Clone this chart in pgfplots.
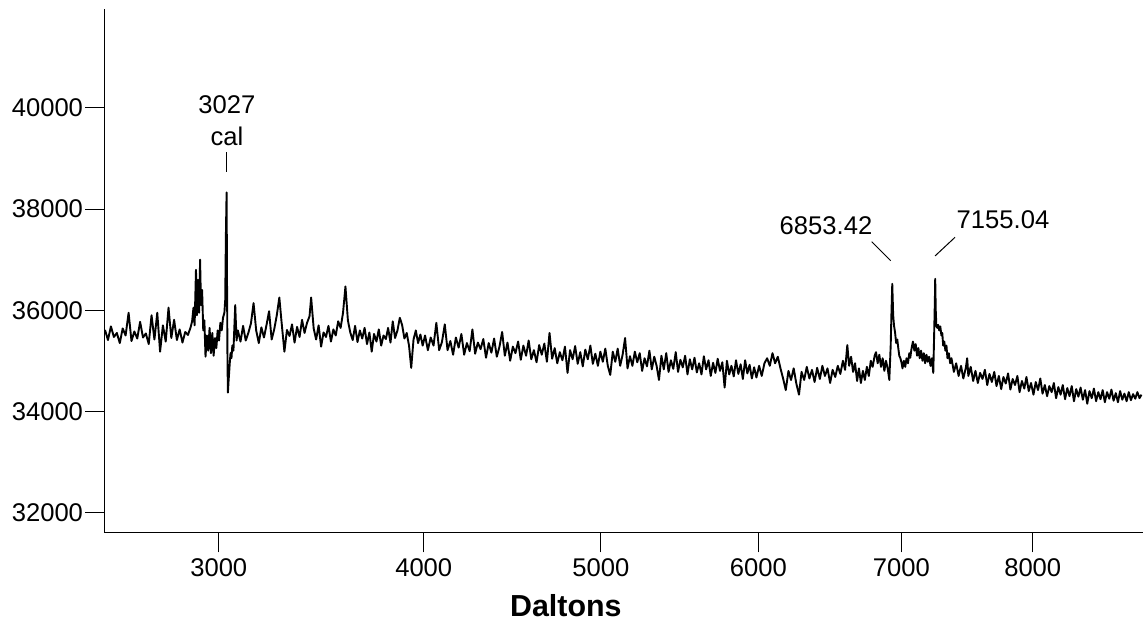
\documentclass[border=0pt]{standalone}
\usepackage{fontspec}
\setmainfont{Liberation Sans}
\usepackage{pgfplots}
\pgfplotsset{compat=1.18}
\begin{document}
\begin{tikzpicture}
\useasboundingbox (-52.5pt,-45.15pt) rectangle (519pt,266.35pt);
\begin{axis}[
  at={(0,0)}, anchor=south west,
  scale only axis, width=519pt, height=261.7pt,
  x coord trafo/.code={\pgfmathparse{exp(0.42*ln(#1))}},
  x coord inv trafo/.code={\pgfmathparse{exp(ln(#1)/0.42)}},
  xmin=2516, xmax=8897, ymin=31600, ymax=41950,
  axis x line=bottom, axis y line=left, axis line style={-, black, line width=0.5pt},
  tick align=outside, major tick length=9.8pt,
  tick style={black, line width=0.5pt},
  xtick={3000,4000,5000,6000,7000,8000},
  xticklabels={3000,4000,5000,6000,7000,8000},
  ytick={32000,34000,36000,38000,40000},
  scaled y ticks=false,
  /pgf/number format/assume math mode=true,
  /pgf/number format/fixed,
  /pgf/number format/1000 sep={},
  every tick label/.append style={font=\fontsize{12.8}{14}\selectfont},
  yticklabel style={inner xsep=1pt},
  xticklabel style={inner ysep=3pt},
  xlabel={Daltons},
  xlabel style={at={(axis description cs:0.444,0)}, anchor=center, yshift=-36.7pt, font=\fontsize{15.2}{17}\selectfont\bfseries},
  clip=true,
]
\addplot[black, line width=0.95pt, mark=none, line join=round] table {
2516 35610
2528 35410
2540 35680
2552 35470
2564 35550
2576 35350
2588 35640
2600 35500
2612 35950
2624 35390
2636 35580
2648 35440
2660 35770
2672 35460
2684 35540
2696 35330
2708 35900
2720 35420
2732 35950
2744 35180
2756 35700
2768 35380
2780 36050
2792 35450
2804 35810
2816 35410
2828 35620
2840 35360
2852 35570
2864 35510
2876 35670
2882 35780
2888 36050
2893 35700
2899 36800
2903 35900
2908 36600
2913 35950
2917 37000
2921 36100
2926 36400
2931 35600
2936 35800
2941 35080
2947 35500
2953 35200
2959 35650
2965 35150
2971 35550
2977 35100
2983 35450
2989 35250
2995 35600
3001 35400
3007 35750
3013 35600
3019 35850
3025 35950
3029 36200
3032 37500
3035 38330
3037 36500
3039 35000
3041 34370
3044 34600
3047 34800
3050 35000
3053 35150
3057 35050
3061 35300
3066 35200
3074 36100
3080 35400
3086 35600
3098 35380
3110 35690
3122 35400
3134 35550
3146 35740
3158 36140
3170 35600
3182 35350
3194 35660
3206 35460
3218 35710
3230 35980
3242 35420
3254 35620
3266 35900
3278 36250
3290 35700
3302 35180
3314 35610
3326 35490
3338 35720
3350 35360
3362 35670
3374 35470
3386 35810
3398 35550
3410 35750
3422 35880
3430 36250
3442 35640
3454 35420
3466 35700
3478 35280
3490 35560
3502 35470
3514 35690
3526 35380
3538 35620
3550 35500
3562 35780
3574 35650
3586 35950
3598 36470
3610 35800
3622 35560
3634 35410
3646 35690
3658 35370
3670 35600
3682 35440
3694 35650
3706 35330
3718 35560
3730 35180
3742 35530
3754 35380
3766 35620
3778 35300
3790 35500
3802 35430
3814 35650
3826 35360
3838 35780
3850 35450
3862 35600
3874 35850
3886 35710
3898 35440
3910 35550
3922 35300
3934 34860
3946 35420
3958 35600
3970 35350
3982 35520
3994 35300
4006 35500
4021 35210
4036 35460
4051 35300
4066 35750
4081 35210
4096 35370
4111 35720
4126 35210
4141 35390
4156 35120
4171 35460
4186 35260
4201 35530
4216 35120
4231 35350
4246 35190
4261 35620
4276 35140
4291 35360
4306 35230
4321 35430
4336 35060
4351 35350
4366 35160
4381 35440
4396 35080
4411 35280
4426 35570
4441 35100
4456 35360
4471 35000
4486 35280
4501 35150
4516 35380
4531 35020
4546 35300
4561 35100
4576 35400
4591 35030
4606 35210
4621 34970
4636 35310
4651 35120
4666 35340
4681 34980
4696 35550
4711 35040
4726 35250
4741 34950
4756 35170
4771 35010
4786 35280
4801 34760
4816 35210
4831 35030
4846 35290
4861 34940
4876 35170
4891 34890
4906 35220
4921 35030
4936 35300
4951 34940
4966 35140
4981 34900
4996 35180
5011 34980
5026 35240
5041 34900
5056 34720
5071 35180
5086 34980
5101 35240
5116 34900
5131 35120
5146 35450
5161 34850
5176 35090
5191 34900
5206 35180
5221 34970
5236 35150
5251 34800
5266 35050
5281 34890
5296 35200
5311 34830
5326 35080
5341 34900
5356 34620
5371 35100
5386 34830
5401 35150
5416 34780
5431 35010
5446 34840
5461 35170
5476 34780
5491 35020
5506 34870
5521 35100
5536 34730
5551 35030
5566 34830
5581 35060
5596 34770
5611 34950
5626 34730
5641 35090
5656 34830
5671 35010
5686 34700
5701 34960
5716 34760
5731 35040
5746 34800
5761 34970
5776 34470
5791 35000
5806 34730
5821 34900
5836 34690
5851 35010
5866 34740
5881 34930
5896 34640
5911 35010
5926 34750
5941 34920
5956 34650
5971 34870
5986 34670
6004 34900
6022 34700
6040 34950
6058 35050
6076 34900
6094 35150
6112 34950
6130 35080
6148 34850
6166 34650
6184 34420
6202 34800
6220 34620
6238 34850
6256 34550
6274 34330
6292 34780
6310 34620
6328 34880
6346 34650
6364 34820
6382 34580
6400 34860
6418 34640
6436 34900
6454 34700
6472 34850
6490 34560
6508 34820
6526 34680
6544 34900
6562 34740
6580 35000
6596 34820
6611 35310
6624 34900
6638 35080
6652 34780
6666 34950
6680 34600
6694 34850
6708 34560
6722 34800
6736 34620
6750 34880
6764 34700
6778 35000
6792 34880
6806 35100
6816 35170
6828 34950
6840 35120
6852 34880
6864 35050
6876 34800
6888 35000
6900 34850
6912 34620
6922 35300
6928 35900
6934 36520
6940 35900
6946 35700
6955 35550
6962 35350
6970 35420
6977 35250
6985 35100
6993 35050
7001 34960
7008 34850
7018 35000
7028 34880
7038 35050
7048 34950
7058 35150
7065 35060
7075 35250
7085 35380
7095 35200
7105 35330
7115 35100
7125 35250
7135 35050
7145 35200
7155 35000
7165 35150
7175 34950
7185 35120
7195 34980
7205 35080
7215 34900
7225 35050
7235 34760
7242 35500
7247 36200
7250 36620
7254 36000
7259 35700
7265 35650
7272 35710
7280 35600
7288 35680
7296 35500
7303 35550
7310 35300
7318 35380
7326 35200
7334 35300
7342 35050
7352 35150
7362 34950
7372 35050
7390 34780
7408 34950
7426 34700
7444 34900
7462 34650
7480 34850
7491 35050
7500 34700
7518 34880
7536 34600
7554 34800
7572 34560
7590 34760
7608 34640
7626 34820
7644 34520
7662 34740
7680 34580
7698 34780
7716 34500
7734 34700
7752 34440
7770 34680
7788 34550
7806 34750
7824 34430
7842 34640
7860 34520
7878 34700
7896 34380
7914 34600
7932 34450
7950 34680
7968 34400
7986 34560
8004 34330
8022 34580
8040 34420
8058 34650
8076 34350
8094 34520
8112 34300
8130 34500
8148 34380
8166 34560
8184 34260
8202 34480
8220 34330
8238 34520
8256 34240
8274 34460
8292 34300
8310 34500
8328 34200
8346 34440
8364 34290
8382 34470
8400 34230
8418 34420
8436 34150
8454 34400
8472 34260
8490 34450
8508 34200
8526 34380
8544 34240
8562 34420
8580 34180
8598 34380
8616 34250
8634 34430
8652 34210
8670 34360
8688 34180
8706 34400
8724 34230
8742 34350
8760 34200
8778 34380
8796 34220
8814 34340
8832 34250
8850 34380
8868 34260
8884 34330
};
\node[font=\fontsize{12.8}{14}\selectfont, anchor=center] at (rel axis cs:0.1175,0.8172) {3027};
\node[font=\fontsize{12.8}{14}\selectfont, anchor=center] at (rel axis cs:0.1175,0.758) {cal};
\draw[black, line width=0.5pt] (rel axis cs:0.1175,0.7271) -- (rel axis cs:0.1175,0.6889);
\node[font=\fontsize{12.8}{14}\selectfont, anchor=center] at (rel axis cs:0.6946,0.586) {6853.42};
\draw[black, line width=0.5pt] (rel axis cs:0.7386,0.556) -- (rel axis cs:0.7569,0.5197);
\node[font=\fontsize{12.8}{14}\selectfont, anchor=center] at (rel axis cs:0.8651,0.5974) {7155.04};
\draw[black, line width=0.5pt] (rel axis cs:0.8189,0.5644) -- (rel axis cs:0.7996,0.5287);
\end{axis}
\end{tikzpicture}
\end{document}
